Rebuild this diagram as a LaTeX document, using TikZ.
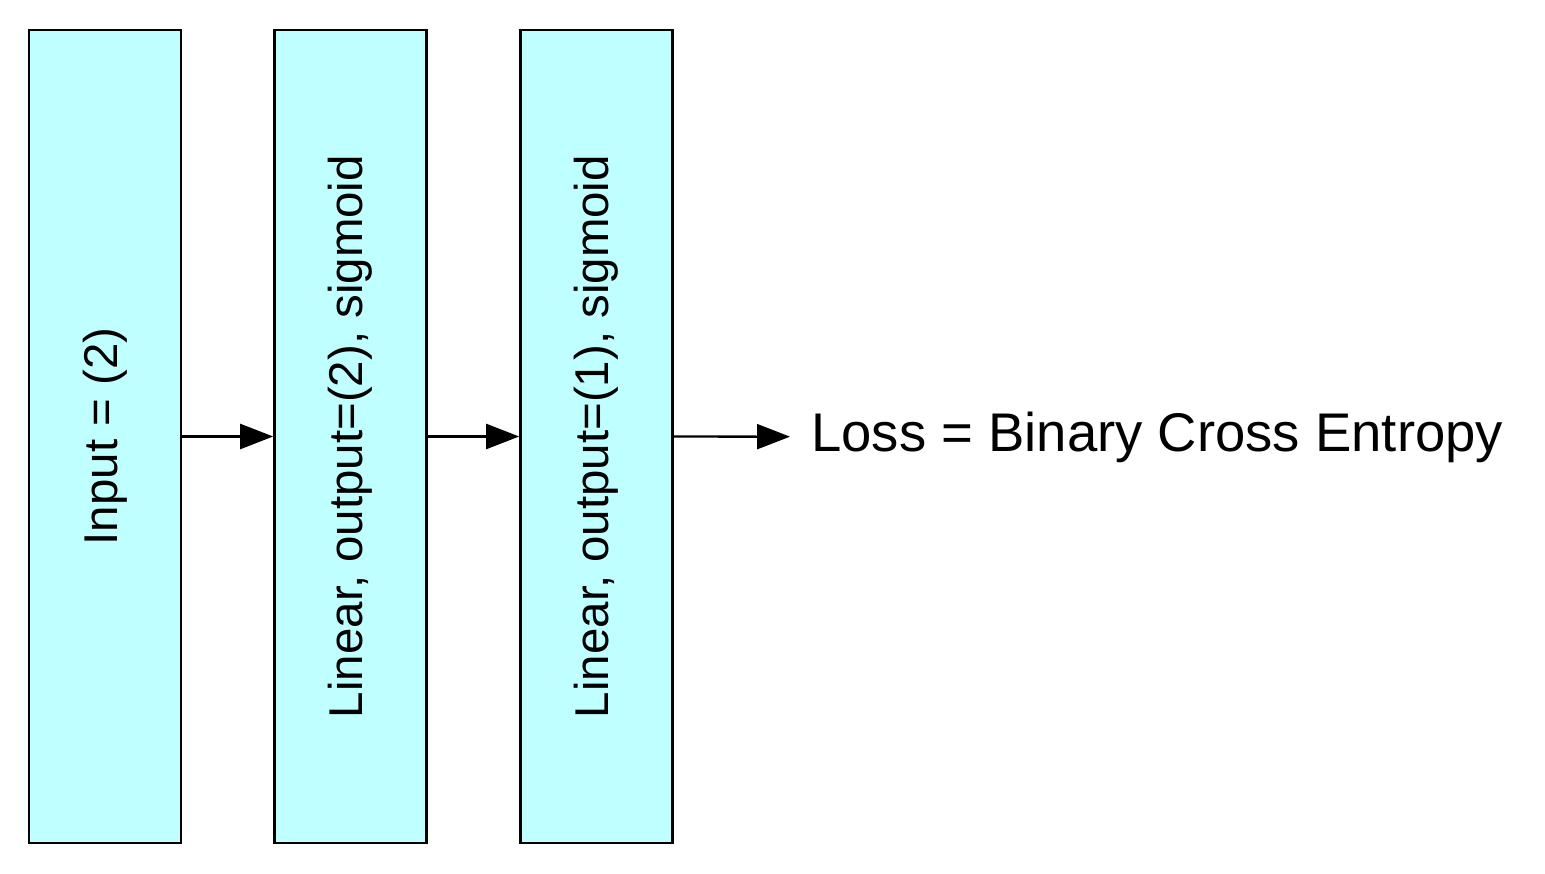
\documentclass[tikz,border=0pt]{standalone}
\usepackage{fontspec}
\setmainfont{Liberation Sans}
\usetikzlibrary{positioning, arrows.meta}

\definecolor{layerfill}{RGB}{192,255,255}
\tikzset{
    layer/.style={draw, line width=1.5pt, fill=layerfill, minimum width=3.04cm,
        minimum height=16.26cm, inner sep=0pt, font=\fontsize{27}{32}\selectfont},
    flow/.style={line width=1.3pt, -{Triangle[length=0.66cm, width=0.5cm]}}
}

\begin{document}
\begin{tikzpicture}[x=0.02cm, y=-0.02cm]
        \useasboundingbox (0,0) rectangle (1545,874);
        \node[layer] (in) at (105,436.5) {\rotatebox{90}{Input = (2)}};
        \node[layer] (lin1) at (350.5,436.5) {\rotatebox{90}{Linear, output=(2), sigmoid}};
        \node[layer] (lin2) at (596.5,436.5) {\rotatebox{90}{Linear, output=(1), sigmoid}};
        \node[anchor=west, inner xsep=0.42cm, inner ysep=0pt,
            font=\fontsize{31}{36}\selectfont] (loss) at (790,437) {Loss = Binary Cross Entropy};
        \draw[flow] (in) -- (lin1);
        \draw[flow] (lin1) -- (lin2);
        \draw[flow] (lin2) -- (loss);
    \end{tikzpicture}
\end{document}
